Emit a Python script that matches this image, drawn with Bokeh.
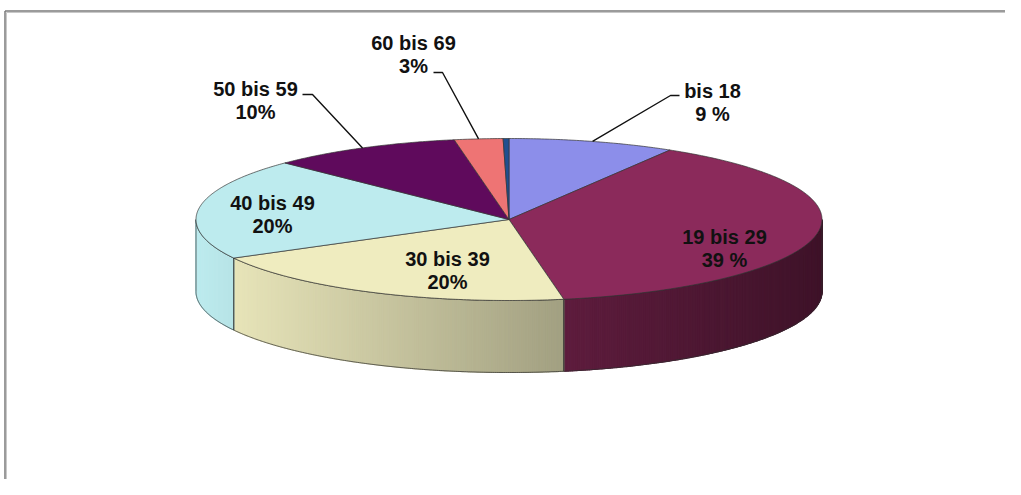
import numpy as np
from bokeh.plotting import figure
from bokeh.models import Range1d
from bokeh.core.properties import value
from bokeh.embed import file_html
from bokeh.resources import INLINE

# ---------------- data ----------------
categories = ["bis 18", "19 bis 29", "30 bis 39", "40 bis 49", "50 bis 59", "60 bis 69", "70 und älter"]
shares = [8.6, 38.6, 19.9, 20.2, 9.9, 2.5, 0.3]
pct_labels = ["9 %", "39 %", "20%", "20%", "10%", "3%", ""]
colors = ["#8c8eea", "#8b2a5b", "#efecbf", "#bdebee", "#5f0a5c", "#ee7474", "#1f4f8f"]

# ---------------- layout ----------------
W, H = 1005, 479
CX, CY, RX, RY, DEPTH = 508.5, 219.0, 313.0, 81.0, 72.0
FONT = value("Liberation Sans")
FSIZE = "20px"
LINE_GAP = 23
# label anchor (first line centre) in page pixels
label_pos = {
    "bis 18": (712, 90),
    "19 bis 29": (724, 236),
    "30 bis 39": (447, 258),
    "40 bis 49": (272, 202),
    "50 bis 59": (255, 88),
    "60 bis 69": (413, 42),
}
# leader: (x at label, y, x of elbow)
leaders = {
    "bis 18": (679, 95, 670),
    "50 bis 59": (302, 94, 312),
    "60 bis 69": (433, 72, 442),
}

p = figure(width=W, height=H, output_backend="svg", toolbar_location=None,
           x_range=Range1d(0, W), y_range=Range1d(H, 0),
           x_axis_type=None, y_axis_type=None, min_border=0)
p.outline_line_color = None
p.grid.visible = False
p.background_fill_color = "white"
p.border_fill_color = "white"

# frame (double grey line, top and left)
p.line([4.5, W + 20], [10.5, 10.5], line_color="#7a7a7a", line_width=1.5)
p.line([6, W + 20], [12, 12], line_color="#c8c8c8", line_width=1)
p.line([4.5, 4.5], [10.5, H + 20], line_color="#7a7a7a", line_width=1.5)
p.line([6, 6], [12, H + 20], line_color="#c8c8c8", line_width=1)


def ex(t):
    return CX + RX * np.sin(np.radians(t))


def ey(t):
    return CY - RY * np.cos(np.radians(t))


def shade(hexc, m):
    r, g, b = int(hexc[1:3], 16), int(hexc[3:5], 16), int(hexc[5:7], 16)
    return "#%02x%02x%02x" % tuple(max(0, min(255, int(round(c * m)))) for c in (r, g, b))


total = sum(shares)
bounds = np.concatenate([[0], np.cumsum(shares)]) / total * 360.0

# ---- side walls (front half only) ----
strip_xs, strip_ys, strip_cols = [], [], []
wall_xs, wall_ys = [], []
for i in range(len(shares)):
    a0, a1 = max(bounds[i], 90.0), min(bounds[i + 1], 270.0)
    if a1 <= a0:
        continue
    n = max(2, int(np.ceil((a1 - a0) / 0.4)) + 1)
    ts = np.linspace(a0, a1, n)
    for k in range(n - 1):
        t0, t1 = ts[k], ts[k + 1]
        tm = 0.5 * (t0 + t1)
        f = (np.sin(np.radians(tm)) + 1) / 2
        m = 1.0 - 0.55 * f
        strip_xs.append([ex(t0), ex(t1), ex(t1), ex(t0)])
        strip_ys.append([ey(t0), ey(t1), ey(t1) + DEPTH, ey(t0) + DEPTH])
        strip_cols.append(shade(colors[i], m))
    wall_xs.append(list(ex(ts)) + list(ex(ts[::-1])))
    wall_ys.append(list(ey(ts)) + list(ey(ts[::-1]) + DEPTH))

p.patches(strip_xs, strip_ys, fill_color=strip_cols, line_color=strip_cols, line_width=1.2)
p.patches(wall_xs, wall_ys, fill_color=None, line_color="#2e2e2e", line_width=0.7)

# ---- top faces ----
top_xs, top_ys = [], []
for i in range(len(shares)):
    n = max(2, int(np.ceil((bounds[i + 1] - bounds[i]) / 0.5)) + 1)
    ts = np.linspace(bounds[i], bounds[i + 1], n)
    top_xs.append([CX] + list(ex(ts)))
    top_ys.append([CY] + list(ey(ts)))
p.patches(top_xs, top_ys, fill_color=colors, line_color="#333333", line_width=0.7)

# ---- leader lines ----
for name, (xl, yl, xe) in leaders.items():
    i = categories.index(name)
    tm = 0.5 * (bounds[i] + bounds[i + 1])
    p.line([xl, xe, ex(tm)], [yl, yl, ey(tm)], line_color="#111111", line_width=1.4)

# ---- labels ----
for name, (lx, ly) in label_pos.items():
    i = categories.index(name)
    p.text([lx], [ly], text=[name], text_font=FONT, text_font_size=FSIZE,
           text_font_style="bold", text_align="center", text_baseline="middle",
           text_color="#111111")
    p.text([lx], [ly + LINE_GAP], text=[pct_labels[i]], text_font=FONT, text_font_size=FSIZE,
           text_font_style="bold", text_align="center", text_baseline="middle",
           text_color="#111111")

open("out.html", "w").write(file_html(p, INLINE))
